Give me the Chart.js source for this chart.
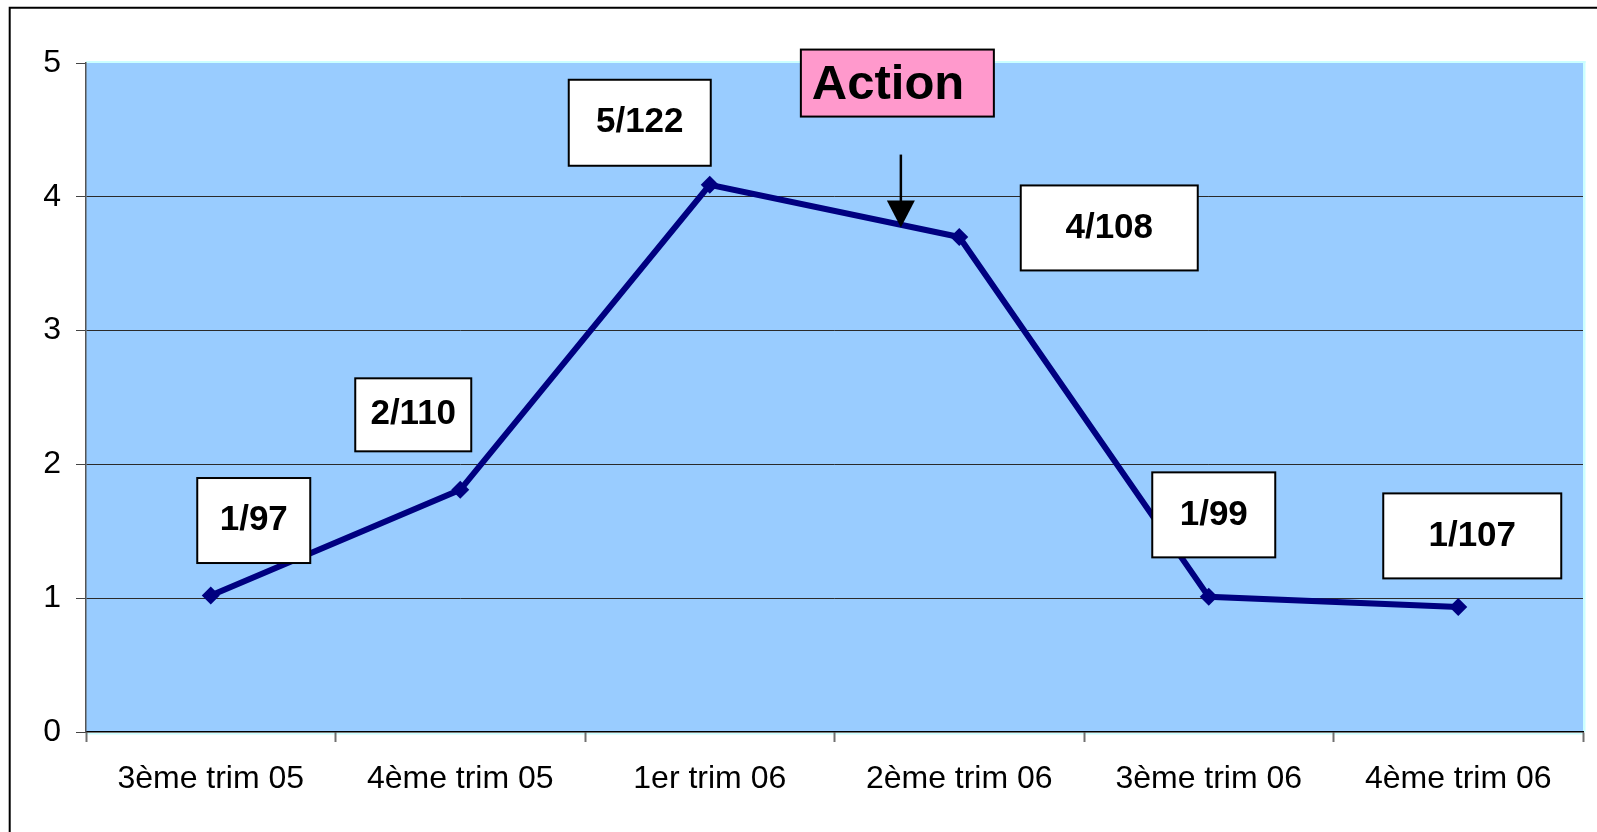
<!DOCTYPE html>
<html>
<head>
<meta charset="utf-8">
<script src="https://cdn.jsdelivr.net/npm/chart.js@4/dist/chart.umd.min.js"></script>
<style>
  html, body { margin: 0; padding: 0; background: #fff; }
  #wrap { position: relative; width: 1597px; height: 832px; }
</style>
</head>
<body>
<div id="wrap"><canvas id="trimChart"></canvas></div>
<script>
// data
const categories = ['3ème trim 05', '4ème trim 05', '1er trim 06', '2ème trim 06', '3ème trim 06', '4ème trim 06'];
const values = [1.02, 1.81, 4.09, 3.70, 1.01, 0.935];
const pointLabels = ['1/97', '2/110', '5/122', '4/108', '1/99', '1/107'];
const yTicks = [0, 1, 2, 3, 4, 5];

// label box placement, pixels relative to each point: [dx, dy, w, h]
const labelBoxes = [
    [43, -75, 113, 85],
    [-47, -75, 116, 73],
    [-70, -62, 142, 86],
    [150, -9, 177, 85],
    [5, -82, 123, 85],
    [14, -71, 178, 85]
];
// the "Action" marker, in data units (category index, value)
const actionText = 'Action';
const actionAt = { x: 2.766, y: 3.77 };

(function() {
    const ctx = document.getElementById('trimChart');
    if (!ctx) return;

    const FONT = "'Liberation Sans', Arial, sans-serif";

    const decor = {
        id: 'decor',
        beforeDraw(chart) {
            const c = chart.ctx;
            const a = chart.chartArea;
            c.save();
            c.fillStyle = '#fff';
            c.fillRect(0, 0, chart.width, chart.height);
            // outer frame (only top and left show)
            c.strokeStyle = '#000';
            c.lineWidth = 2;
            c.beginPath();
            c.moveTo(9.7, chart.height);
            c.lineTo(9.7, 7.7);
            c.lineTo(chart.width, 7.7);
            c.stroke();
            // plot area
            c.fillStyle = '#99CCFF';
            c.fillRect(a.left, a.top, a.right - a.left, a.bottom - a.top);
            c.fillStyle = '#CCFFFF';
            c.fillRect(a.left, a.top - 2, a.right - a.left + 2.5, 2);
            c.fillRect(a.right, a.top - 2, 2.5, a.bottom - a.top + 2);
            c.fillRect(a.left, a.bottom + 1, a.right - a.left, 1.5);
            c.restore();
        },
        afterDatasetsDraw(chart) {
            const c = chart.ctx;
            const meta = chart.getDatasetMeta(0);
            const xs = chart.scales.x, ys = chart.scales.y;
            c.save();
            c.textAlign = 'center';
            c.textBaseline = 'middle';
            c.font = 'bold 35px ' + FONT;
            meta.data.forEach((pt, i) => {
                const [dx, dy, w, h] = labelBoxes[i];
                const cx = pt.x + dx, cy = pt.y + dy;
                c.fillStyle = '#fff';
                c.fillRect(cx - w / 2, cy - h / 2, w, h);
                c.strokeStyle = '#000';
                c.lineWidth = 2;
                c.strokeRect(cx - w / 2, cy - h / 2, w, h);
                c.fillStyle = '#000';
                c.fillText(pointLabels[i], cx, cy);
            });

            // arrow down to the line
            const ax = xs.getPixelForValue(actionAt.x);
            const tipY = ys.getPixelForValue(actionAt.y);
            c.strokeStyle = '#000';
            c.lineWidth = 2.5;
            c.beginPath();
            c.moveTo(ax, tipY - 73);
            c.lineTo(ax, tipY - 20);
            c.stroke();
            c.fillStyle = '#000';
            c.beginPath();
            c.moveTo(ax - 14, tipY - 27);
            c.lineTo(ax + 14, tipY - 27);
            c.lineTo(ax, tipY);
            c.closePath();
            c.fill();

            // Action box
            const bx = ax - 100, by = tipY - 178, bw = 193, bh = 67;
            c.fillStyle = '#FF99CC';
            c.fillRect(bx, by, bw, bh);
            c.strokeStyle = '#000';
            c.lineWidth = 2;
            c.strokeRect(bx, by, bw, bh);
            c.fillStyle = '#000';
            c.font = 'bold 49px ' + FONT;
            c.textAlign = 'left';
            c.textBaseline = 'alphabetic';
            c.fillText(actionText, bx + 11, by + 49);
            c.restore();
        }
    };

    const trimChart = new Chart(ctx, {
        type: 'line',
        data: {
            labels: categories,
            datasets: [{
                data: values,
                borderColor: '#000080',
                backgroundColor: '#000080',
                borderWidth: 6,
                tension: 0,
                pointStyle: 'rectRot',
                pointRadius: 9,
                pointHoverRadius: 9,
                pointBorderWidth: 0
            }]
        },
        options: {
            responsive: true,
            maintainAspectRatio: false,
            animation: false,
            layout: { padding: { left: 0, top: 63, right: 14, bottom: 0 } },
            plugins: {
                legend: { display: false },
                tooltip: { enabled: false }
            },
            scales: {
                x: {
                    offset: true,
                    grid: {
                        offset: true,
                        drawOnChartArea: false,
                        drawTicks: true,
                        tickLength: 10,
                        tickColor: '#707070',
                        tickWidth: 2
                    },
                    border: { display: true, color: '#000', width: 1.5 },
                    ticks: {
                        color: '#000',
                        padding: 18,
                        maxRotation: 0,
                        font: { family: FONT, size: 32 }
                    },
                    afterFit: (scale) => { scale.height = 100; }
                },
                y: {
                    min: 0,
                    max: 5,
                    afterBuildTicks: (scale) => { scale.ticks = yTicks.map(v => ({ value: v })); },
                    grid: {
                        color: (c) => (c.tick && c.tick.value > 0 && c.tick.value < 5) ? '#2a2a2a' : 'rgba(0,0,0,0)',
                        lineWidth: 1,
                        tickLength: 10,
                        tickColor: '#444'
                    },
                    border: { display: true, color: '#555', width: 1.5 },
                    ticks: {
                        color: '#000',
                        padding: 15,
                        font: { family: FONT, size: 32 }
                    },
                    afterFit: (scale) => { scale.width = 86; }
                }
            }
        },
        plugins: [decor]
    });

    window.trimChart = trimChart;
})();
</script>
</body>
</html>
